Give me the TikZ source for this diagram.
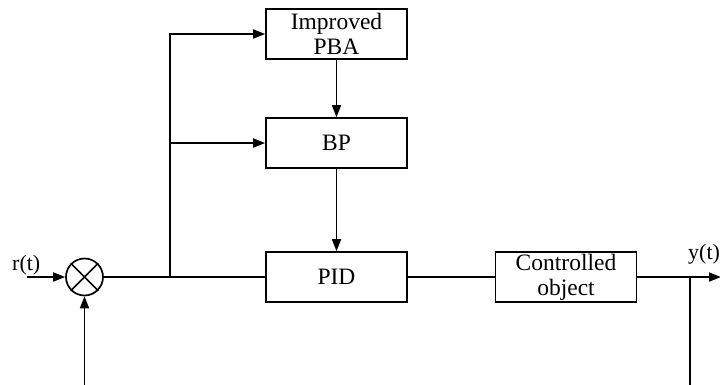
\documentclass[tikz,border=0pt]{standalone}
\usepackage{fontspec}
\setmainfont{Liberation Serif}
\usetikzlibrary{arrows.meta}
\begin{document}
\begin{tikzpicture}[x=1pt,y=-1pt,
  blk/.style={draw,line width=1.7pt,minimum width=141pt,minimum height=50pt,inner sep=0pt,align=center,font=\fontsize{23.5}{25}\selectfont},
  sumc/.style={draw,circle,line width=1.7pt,minimum size=37pt,inner sep=0pt},
  wire/.style={line width=1.7pt},
  arr/.style={wire,-{Triangle[length=12pt,width=9pt]}},
  lbl/.style={font=\fontsize{22}{24}\selectfont,inner sep=0pt,anchor=base west}]
\useasboundingbox (0,0) rectangle (720,385);
\clip (0,0) rectangle (720,385);
\node[blk] (pba) at (336.5,34) {Improved\\PBA};
\node[blk] (bp) at (336.5,143) {BP};
\node[blk] (pid) at (336.5,277) {PID};
\node[blk] (plant) at (566,277) {Controlled\\object};
\node[sumc] (sum) at (84.5,277) {};
\draw[wire] (sum.45) -- (sum.225) (sum.135) -- (sum.315);
\coordinate (rin) at (27,277);
\coordinate (branch) at (170,277);
\coordinate (tap) at (690,277);
\coordinate (out) at (721,277);
\coordinate (fb1) at (690,420);
\coordinate (fb2) at (84.5,420);
\node[lbl] (rt) at (12,270) {r(t)};
\node[lbl] (yt) at (688,259) {y(t)};
\draw[arr] (rin) -- (sum.west);
\draw[wire] (sum.east) -- (pid.west);
\draw[arr] (branch) |- (pba.west);
\draw[arr] (branch |- bp.west) -- (bp.west);
\draw[arr] (pba.south) -- (bp.north);
\draw[arr] (bp.south) -- (pid.north);
\draw[wire] (pid.east) -- (plant.west);
\draw[arr] (plant.east) -- (out);
\draw[arr] (tap) -- (fb1) -- (fb2) -- (sum.south);
\end{tikzpicture}
\end{document}
